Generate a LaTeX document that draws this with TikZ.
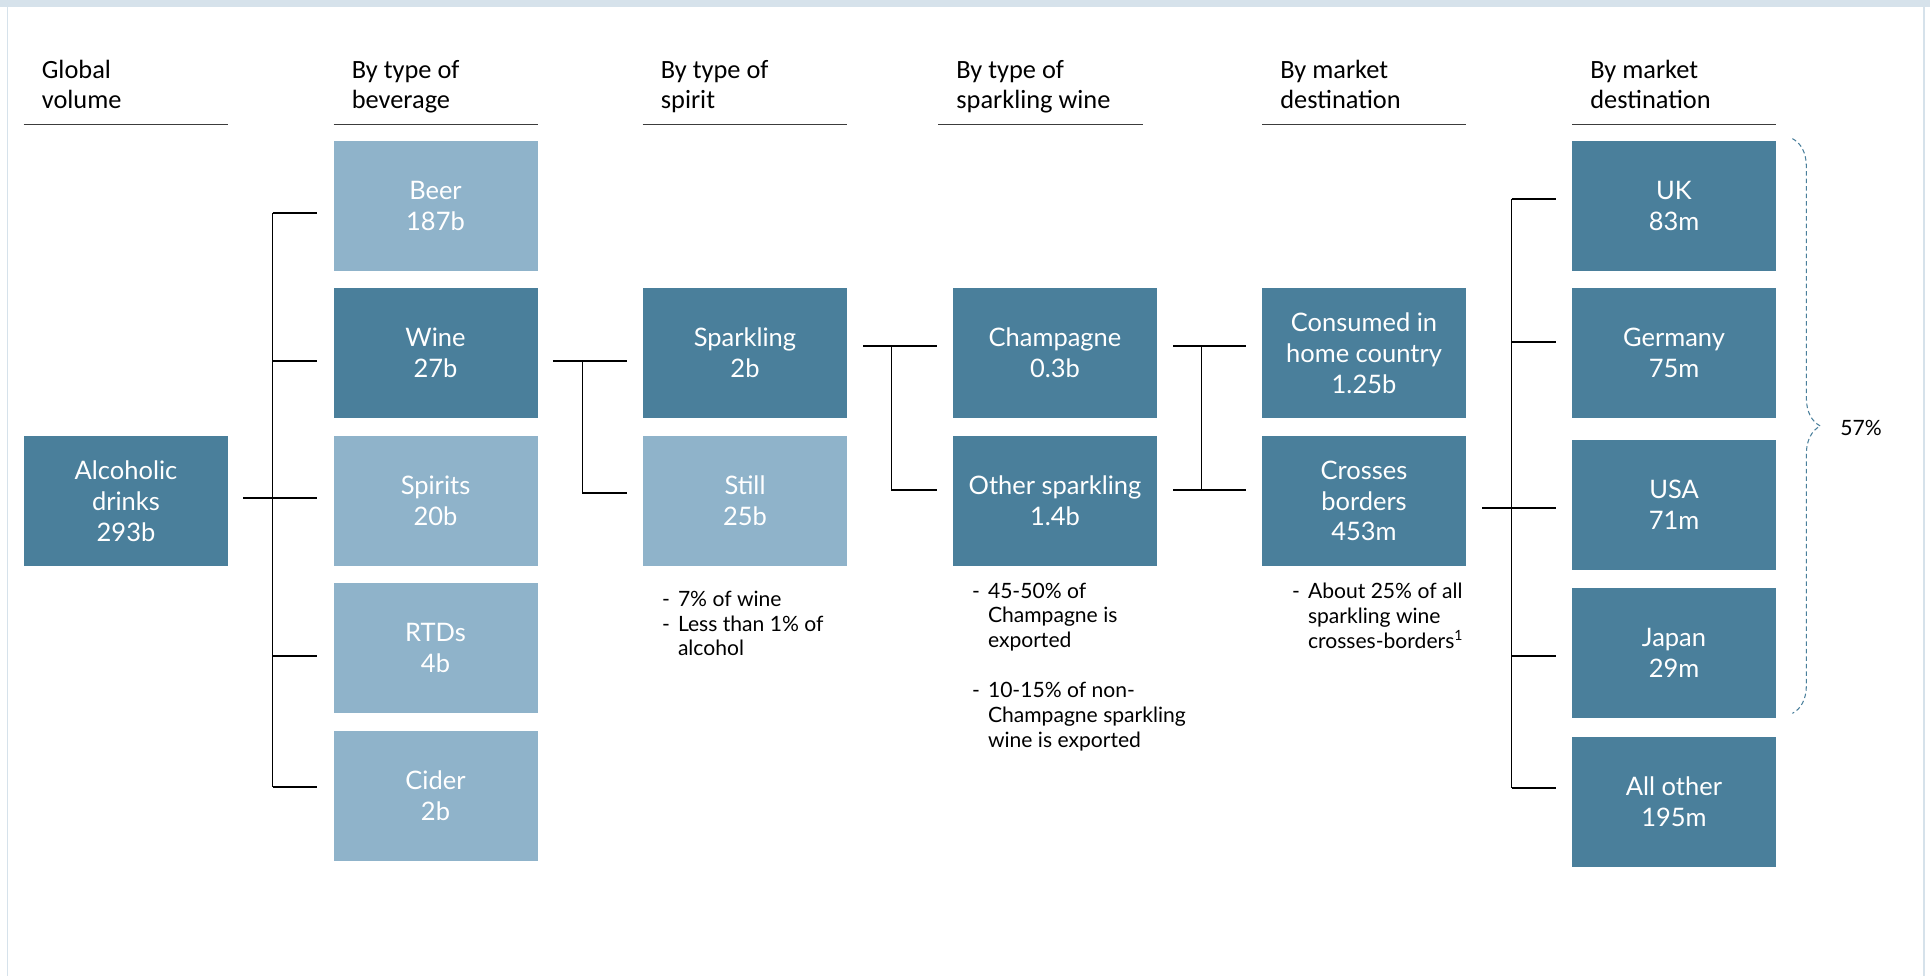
\documentclass[tikz,border=0pt]{standalone}
\usepackage{fontspec}
\setmainfont{Lato}
\newfontfamily\headfont{Carlito}
\usetikzlibrary{positioning,decorations.pathreplacing}
\definecolor{darkbox}{RGB}{74,127,155}
\definecolor{lightbox}{RGB}{143,179,202}
\definecolor{framecol}{RGB}{214,226,235}
\definecolor{rulecol}{RGB}{60,60,60}
\newcommand{\notedash}{\makebox[0.32cm][l]{-}}
\newcommand{\noteindent}{\hspace*{0.32cm}}

\begin{document}
\begin{tikzpicture}[
  box/.style={minimum width=4.08cm, minimum height=2.6cm, inner sep=0pt, align=center, text=white, font=\fontsize{14.5}{17.5}\selectfont},
  dark/.style={box, fill=darkbox},
  light/.style={box, fill=lightbox},
  head/.style={anchor=north west, inner sep=0pt, align=left, font=\headfont\fontsize{15}{17}\selectfont},
  headrule/.style={rulecol, line width=1.1pt},
  note/.style={inner sep=0pt, align=left, font=\fontsize{12}{14.2}\selectfont},
  link/.style={line width=0.9pt}
]
\useasboundingbox (0,0) rectangle (38.6,-19.52);
\fill[framecol] (0,0) rectangle (38.6,-0.14);
\draw[framecol, line width=1pt] (0.15,0) -- (0.15,-19.52);
\draw[framecol, line width=1pt] (38.48,0) -- (38.48,-19.52);

\draw[headrule] (0.47,-2.49) -- (4.55,-2.49);
\draw[headrule] (6.67,-2.49) -- (10.76,-2.49);
\draw[headrule] (12.85,-2.49) -- (16.94,-2.49);
\draw[headrule] (18.76,-2.49) -- (22.85,-2.49);
\draw[headrule] (25.24,-2.49) -- (29.32,-2.49);
\draw[headrule] (31.44,-2.49) -- (35.52,-2.49);

\node[head] (h1) at (0.83,-1.2) {Global\\volume};
\node[head] (h2) at (7.03,-1.2) {By type of\\beverage};
\node[head] (h3) at (13.21,-1.2) {By type of\\spirit};
\node[head] (h4) at (19.12,-1.2) {By type of\\sparkling wine};
\node[head] (h5) at (25.60,-1.2) {By market\\destination};
\node[head] (h6) at (31.80,-1.2) {By market\\destination};

\node[dark] (alc) at (2.52,-10.02) {Alcoholic\\drinks\\293b};

\node[light] (beer) at (8.71,-4.12) {Beer\\187b};
\node[dark] (wine) at (8.71,-7.06) {Wine\\27b};
\node[light] (spirits) at (8.71,-10.02) {Spirits\\20b};
\node[light] (rtds) at (8.71,-12.96) {RTDs\\4b};
\node[light] (cider) at (8.71,-15.92) {Cider\\2b};

\node[dark] (sparkling) at (14.90,-7.06) {Sparkling\\2b};
\node[light] (still) at (14.90,-10.02) {Still\\25b};

\node[dark] (champagne) at (21.10,-7.06) {Champagne\\0.3b};
\node[dark] (other) at (21.10,-10.02) {Other sparkling\\1.4b};

\node[dark] (consumed) at (27.28,-7.06) {Consumed in\\home country\\1.25b};
\node[dark] (crosses) at (27.28,-10.02) {Crosses\\borders\\453m};

\node[dark] (uk) at (33.48,-4.12) {UK\\83m};
\node[dark] (germany) at (33.48,-7.06) {Germany\\75m};
\node[dark] (usa) at (33.48,-10.10) {USA\\71m};
\node[dark] (japan) at (33.48,-13.06) {Japan\\29m};
\node[dark] (allother) at (33.48,-16.04) {All other\\195m};

\draw[link] ([xshift=0.3cm,yshift=0.06cm]alc.east) -- ([xshift=-0.33cm,yshift=0.06cm]spirits.west);
\draw[link] ([xshift=-1.21cm,yshift=-0.14cm]beer.west) -- ([xshift=-1.21cm,yshift=0.18cm]cider.west);
\draw[link] ([xshift=-1.21cm,yshift=-0.14cm]beer.west) -- ([xshift=-0.33cm,yshift=-0.14cm]beer.west);
\draw[link] ([xshift=-1.21cm,yshift=-0.16cm]wine.west) -- ([xshift=-0.33cm,yshift=-0.16cm]wine.west);
\draw[link] ([xshift=-1.21cm,yshift=-0.16cm]rtds.west) -- ([xshift=-0.33cm,yshift=-0.16cm]rtds.west);
\draw[link] ([xshift=-1.21cm,yshift=0.18cm]cider.west) -- ([xshift=-0.33cm,yshift=0.18cm]cider.west);

\draw[link] ([xshift=0.3cm,yshift=-0.16cm]wine.east) -- ([xshift=-0.32cm,yshift=-0.16cm]sparkling.west);
\draw[link] ([xshift=-1.2cm,yshift=-0.16cm]sparkling.west) |- ([xshift=-0.32cm,yshift=0.16cm]still.west);

\draw[link] ([xshift=0.32cm,yshift=0.14cm]sparkling.east) -- ([xshift=-0.32cm,yshift=0.14cm]champagne.west);
\draw[link] ([xshift=-1.22cm,yshift=0.14cm]champagne.west) |- ([xshift=-0.32cm,yshift=0.22cm]other.west);

\draw[link] ([xshift=0.32cm,yshift=0.14cm]champagne.east) -- ([xshift=-0.32cm,yshift=0.14cm]consumed.west);
\draw[link] ([xshift=0.32cm,yshift=0.22cm]other.east) -- ([xshift=-0.32cm,yshift=0.22cm]crosses.west);
\draw[link] ([xshift=-1.2cm,yshift=0.14cm]consumed.west) -- ([xshift=-1.2cm,yshift=0.22cm]crosses.west);

\draw[link] ([xshift=0.32cm,yshift=-0.14cm]crosses.east) -- ([xshift=-0.32cm,yshift=-0.06cm]usa.west);
\draw[link] ([xshift=-1.2cm,yshift=0.14cm]uk.west) -- ([xshift=-1.2cm,yshift=0.28cm]allother.west);
\draw[link] ([xshift=-1.2cm,yshift=0.14cm]uk.west) -- ([xshift=-0.32cm,yshift=0.14cm]uk.west);
\draw[link] ([xshift=-1.2cm,yshift=0.22cm]germany.west) -- ([xshift=-0.32cm,yshift=0.22cm]germany.west);
\draw[link] ([xshift=-1.2cm,yshift=-0.06cm]japan.west) -- ([xshift=-0.32cm,yshift=-0.06cm]japan.west);
\draw[link] ([xshift=-1.2cm,yshift=0.28cm]allother.west) -- ([xshift=-0.32cm,yshift=0.28cm]allother.west);

\draw[darkbox, line width=0.6pt, dash pattern=on 0.09cm off 0.06cm, decorate, decoration={brace, amplitude=0.56cm}]
  ([xshift=0.32cm,yshift=0.04cm]uk.north east) -- ([xshift=0.32cm,yshift=0.1cm]japan.south east);
\node[anchor=west, inner sep=0pt, font=\fontsize{12}{14}\selectfont] (pct) at (36.8,-8.56) {57\%};

\node[note, below right=0.48cm and 0.38cm of still.south west] (stillnote)
  {\notedash 7\% of wine\\\notedash Less than 1\% of\\\noteindent alcohol};
\node[note, below right=0.32cm and 0.38cm of other.south west] (othernote)
  {\notedash 45-50\% of\\\noteindent Champagne is\\\noteindent exported\\[14.2pt]\notedash 10-15\% of non-\\\noteindent Champagne sparkling\\\noteindent wine is exported};
\node[note, below right=0.32cm and 0.6cm of crosses.south west] (crossnote)
  {\notedash About 25\% of all\\\noteindent sparkling wine\\\noteindent crosses-borders\textsuperscript{1}};
\end{tikzpicture}
\end{document}
